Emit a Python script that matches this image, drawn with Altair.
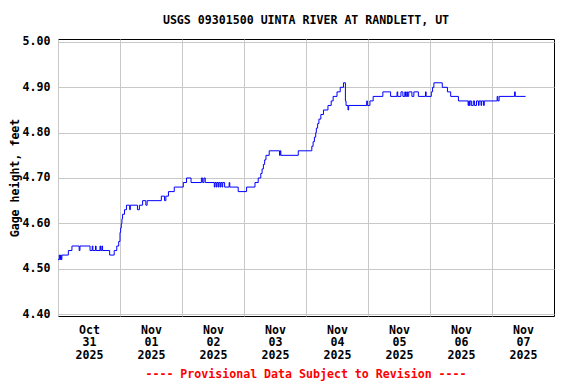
import altair as alt
import pandas as pd

# Gage height readings (step changes), hours since 2025-10-31 00:00 UTC
hours = [0.0, 0.5, 0.75, 1.0, 1.25, 1.5, 4.0, 5.4, 8.2, 8.5, 12.4, 13.25, 13.5, 14.5, 14.75,
         16.25, 16.5, 17.0, 17.25, 20.0, 21.75, 22.75, 23.5, 24.0, 24.25, 24.5, 24.75, 25.0,
         25.75, 26.5, 27.75, 28.0, 30.75, 31.5, 32.75, 34.0, 34.5, 40.0, 41.25, 41.75, 42.75,
         45.0, 48.5, 49.75, 51.5, 55.5, 56.0, 56.5, 57.0, 60.5, 60.75, 61.25, 61.5, 62.0,
         62.25, 62.75, 63.0, 63.5, 63.75, 64.5, 66.25, 66.5, 69.75, 73.0, 76.25, 77.5, 78.5,
         79.0, 79.5, 80.0, 80.5, 81.75, 85.75, 86.0, 86.25, 93.0, 98.25, 98.75, 99.25, 99.75,
         100.0, 100.5, 101.0, 101.75, 102.75, 104.5, 105.75, 106.5, 108.0, 109.25, 110.5,
         111.25, 111.5, 112.25, 112.5, 119.5, 119.75, 120.75, 122.0, 125.75, 128.75, 131.25,
         131.5, 132.75, 133.5, 134.25, 134.5, 135.0, 135.25, 135.75, 137.0, 137.75, 139.5,
         142.25, 142.5, 144.5, 145.0, 145.5, 148.75, 150.75, 152.0, 155.0, 158.75, 159.0,
         159.25, 159.5, 160.0, 160.75, 161.25, 162.0, 162.75, 163.0, 163.75, 164.0, 164.75,
         165.0, 170.0, 170.25, 170.75, 176.75, 177.0, 181.0]
stage = [4.52, 4.53, 4.52, 4.53, 4.52, 4.53, 4.54, 4.55, 4.54, 4.55, 4.54, 4.55, 4.54, 4.55, 4.54,
         4.55, 4.54, 4.55, 4.54, 4.53, 4.54, 4.55, 4.56, 4.58, 4.59, 4.60, 4.61, 4.62,
         4.63, 4.64, 4.63, 4.64, 4.63, 4.64, 4.65, 4.64, 4.65, 4.66, 4.65, 4.66, 4.67,
         4.68, 4.69, 4.70, 4.69, 4.70, 4.69, 4.70, 4.69, 4.68, 4.69, 4.68, 4.69, 4.68,
         4.69, 4.68, 4.69, 4.68, 4.69, 4.68, 4.69, 4.68, 4.67, 4.68, 4.69, 4.70, 4.71,
         4.72, 4.73, 4.74, 4.75, 4.76, 4.75, 4.76, 4.75, 4.76, 4.77, 4.78, 4.79, 4.80,
         4.81, 4.82, 4.83, 4.84, 4.85, 4.86, 4.87, 4.88, 4.89, 4.90, 4.91,
         4.87, 4.86, 4.85, 4.86, 4.87, 4.86, 4.87, 4.88, 4.89, 4.88, 4.89,
         4.88, 4.89, 4.88, 4.89, 4.88, 4.89, 4.88, 4.89, 4.88, 4.89, 4.88,
         4.89, 4.88, 4.89, 4.90, 4.91, 4.90, 4.89, 4.88, 4.87, 4.86, 4.87,
         4.86, 4.87, 4.86, 4.87, 4.86, 4.87, 4.86, 4.87, 4.86, 4.87, 4.86,
         4.87, 4.88, 4.87, 4.88, 4.89, 4.88, 4.88]

y_ticks = [4.40, 4.50, 4.60, 4.70, 4.80, 4.90, 5.00]
day_ticks = [31, 1, 2, 3, 4, 5, 6, 7]
day_months = [10, 11, 11, 11, 11, 11, 11, 11]

title_text = "USGS 09301500 UINTA RIVER AT RANDLETT, UT"
footer_text = "---- Provisional Data Subject to Revision ----"

start = pd.Timestamp("2025-10-31T00:00:00Z")
times = [(start + pd.Timedelta(hours=h)).strftime("%Y-%m-%dT%H:%M:%SZ") for h in hours]
df = pd.DataFrame({"time": times, "stage": stage})

FONT = "DejaVu Sans Mono"
FS = 11.6

x_values = [alt.DateTime(year=2025, month=m, date=d, utc=True) for m, d in zip(day_months, day_ticks)]

line = alt.Chart(df).mark_line(
    interpolate="step-after", color="#0000FF", strokeWidth=1
).encode(
    x=alt.X(
        "time:T",
        scale=alt.Scale(
            type="utc",
            domain=[alt.DateTime(year=2025, month=10, date=31, utc=True),
                    alt.DateTime(year=2025, month=11, date=8, utc=True)],
            nice=False,
        ),
        axis=alt.Axis(
            values=x_values,
            labelExpr="[utcFormat(datum.value, '%b'), utcFormat(datum.value, '%d'), utcFormat(datum.value, '%Y')]",
            labelOffset=31,
            labelFlush=False,
            labelOverlap=False,
            labelPadding=8,
            labelLineHeight=12.7,
            labelBaseline="top",
            ticks=False,
            domain=False,
            grid=True,
            title=None,
        ),
    ),
    y=alt.Y(
        "stage:Q",
        scale=alt.Scale(domain=[4.3956, 5.0066], nice=False, zero=False),
        axis=alt.Axis(
            values=y_ticks,
            format=".2f",
            ticks=False,
            domain=False,
            grid=True,
            labelPadding=8,
            title="Gage height, feet",
            titlePadding=2,
        ),
    ),
)

footer = alt.Chart(pd.DataFrame({"t": [footer_text]})).mark_text(
    font=FONT, fontSize=FS, fontWeight="bold", color="#FF0000", baseline="middle", align="center"
).encode(
    text="t:N",
    x=alt.value(248),
    y=alt.value(336),
)

chart = alt.layer(line, footer).properties(
    width=496,
    height=277,
    title=alt.TitleParams(
        text=title_text, anchor="middle", font=FONT, fontSize=FS, fontWeight="bold",
        color="#000000", offset=9,
    ),
    autosize=alt.AutoSizeParams(type="none"),
    padding={"left": 50, "top": 31, "right": 14, "bottom": 68},
).configure_view(
    stroke="#000000", strokeWidth=1
).configure_axis(
    labelFont=FONT, labelFontSize=FS, labelFontWeight="bold", labelColor="#000000",
    titleFont=FONT, titleFontSize=FS, titleFontWeight="bold", titleColor="#000000",
    gridColor="#C8C8C8", gridWidth=1, gridOpacity=1,
)

chart.save("out.html", embed_options={"renderer": "svg", "actions": False})
